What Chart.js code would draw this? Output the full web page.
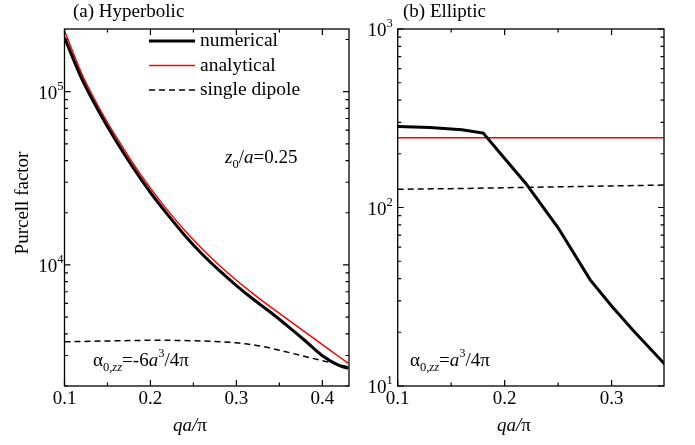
<!DOCTYPE html>
<html>
<head>
<meta charset="utf-8">
<script src="https://cdn.jsdelivr.net/npm/chart.js@4"></script>
<style>
  body { margin: 0; background: #fff; }
  canvas { position: absolute; left: 0; top: 0; }
</style>
</head>
<body>
<canvas id="hyp" width="695" height="445"></canvas>
<canvas id="ell" width="695" height="445"></canvas>
<script>
// (a) Hyperbolic
const hypQ = [0.10, 0.12, 0.14, 0.16, 0.18, 0.20, 0.22, 0.24, 0.26, 0.28, 0.30, 0.32, 0.34, 0.36, 0.38, 0.40, 0.42, 0.43];
const hypNumerical = [205100, 118900, 76740, 51880, 36310, 26180, 19500, 14790, 11560, 9290, 7600, 6310, 5310, 4420, 3650, 2990, 2620, 2530];
const hypAnalytical = [224900, 127400, 81280, 54950, 38460, 27730, 20650, 15780, 12390, 9950, 8150, 6780, 5700, 4830, 4090, 3470, 2940, 2710];
const hypDipoleQ = [0.10, 0.15, 0.20, 0.25, 0.30, 0.325, 0.35, 0.375, 0.40, 0.43];
const hypDipole = [3600, 3640, 3670, 3650, 3550, 3420, 3220, 3000, 2800, 2580];

// (b) Elliptic
const ellQ = [0.10, 0.13, 0.16, 0.18, 0.20, 0.22, 0.25, 0.28, 0.30, 0.32, 0.35];
const ellNumerical = [284, 281, 273, 261, 188, 136, 77, 39.3, 28.1, 20.5, 13.2];
const ellAnalyticalQ = [0.10, 0.35];
const ellAnalytical = [246, 246];
const ellDipoleQ = [0.10, 0.15, 0.20, 0.25, 0.30, 0.35];
const ellDipole = [126.5, 127.5, 129, 130.5, 132, 133.6];

// ticks
const hypXMajor = [0.1, 0.2, 0.3, 0.4];
const hypXMinor = [0.15, 0.25, 0.35];
const hypYMajor = [1e4, 1e5];
const hypYMinor = [2000, 3000, 4000, 5000, 6000, 7000, 8000, 9000,
  20000, 30000, 40000, 50000, 60000, 70000, 80000, 90000, 200000];
const ellXMajor = [0.1, 0.2, 0.3];
const ellXMinor = [0.15, 0.25, 0.35];
const ellYMajor = [10, 100, 1000];
const ellYMinor = [20, 30, 40, 50, 60, 70, 80, 90, 200, 300, 400, 500, 600, 700, 800, 900];

const FONT = '"Liberation Serif", "Times New Roman", serif';
const pts = (xs, ys) => xs.map((x, i) => ({ x: x, y: ys[i] }));

// draws text made of pieces: {t, it: italic, s: 1 sup / -1 sub}
function drawRich(ctx, x, y, segs, size, align) {
  const font = s => (s.it ? 'italic ' : '') + (s.s ? size * 0.66 : size) + 'px ' + FONT;
  let w = 0;
  segs.forEach(s => { ctx.font = font(s); w += ctx.measureText(s.t).width; });
  let cx = align === 'center' ? x - w / 2 : align === 'right' ? x - w : x;
  ctx.textAlign = 'left';
  ctx.textBaseline = 'alphabetic';
  segs.forEach(s => {
    ctx.font = font(s);
    const dy = s.s === 1 ? -size * 0.45 : s.s === -1 ? size * 0.28 : 0;
    ctx.fillText(s.t, cx, y + dy);
    cx += ctx.measureText(s.t).width;
  });
}

const framePlugin = {
  id: 'frame',
  afterDatasetsDraw(chart, args, o) {
    const { ctx, chartArea: a, scales: { x, y } } = chart;
    ctx.save();
    ctx.strokeStyle = '#000';
    ctx.fillStyle = '#000';
    ctx.lineWidth = 1.3;
    ctx.strokeRect(a.left, a.top, a.right - a.left, a.bottom - a.top);

    ctx.lineWidth = 1.2;
    ctx.beginPath();
    const xt = (v, len) => {
      const px = x.getPixelForValue(v);
      if (px > a.right + 0.5) return;
      ctx.moveTo(px, a.bottom); ctx.lineTo(px, a.bottom - len);
      ctx.moveTo(px, a.top); ctx.lineTo(px, a.top + len);
    };
    const yt = (v, len) => {
      const py = y.getPixelForValue(v);
      if (py < a.top - 0.5) return;
      ctx.moveTo(a.left, py); ctx.lineTo(a.left + len, py);
      ctx.moveTo(a.right, py); ctx.lineTo(a.right - len, py);
    };
    o.xMajor.forEach(v => xt(v, 6));
    o.xMinor.forEach(v => xt(v, 3.5));
    o.yMajor.forEach(v => yt(v, 6));
    o.yMinor.forEach(v => yt(v, 3.5));
    ctx.stroke();

    // x tick labels
    ctx.font = '19px ' + FONT;
    ctx.textAlign = 'center';
    ctx.textBaseline = 'alphabetic';
    o.xMajor.forEach(v => ctx.fillText(v.toFixed(1), x.getPixelForValue(v), 404));

    // y tick labels as 10^n
    o.yMajor.forEach(v => {
      const py = y.getPixelForValue(v);
      drawRich(ctx, a.left - o.yGap, py + 7, [{ t: '10' }, { t: String(Math.round(Math.log10(v))), s: 1 }], 19, 'right');
    });

    // axis title
    drawRich(ctx, o.xTitleX, 431, [{ t: 'qa', it: true }, { t: '/', it: true }, { t: 'π' }], 19, 'center');

    // other texts
    o.texts.forEach(tx => drawRich(ctx, tx.x, tx.y, tx.segs, 19, 'left'));

    if (o.yTitle) {
      ctx.save();
      ctx.translate(23, 203);
      ctx.rotate(-Math.PI / 2);
      ctx.font = '19px ' + FONT;
      ctx.textAlign = 'center';
      ctx.textBaseline = 'middle';
      ctx.fillText(o.yTitle, 0, 0);
      ctx.restore();
    }

    if (o.legend) {
      chart.data.datasets.forEach((ds, i) => {
        const ly = 41 + i * 24.5;
        ctx.beginPath();
        ctx.strokeStyle = ds.borderColor;
        ctx.lineWidth = ds.borderWidth;
        ctx.setLineDash(ds.borderDash || []);
        ctx.moveTo(149, ly); ctx.lineTo(195, ly);
        ctx.stroke();
        ctx.setLineDash([]);
        ctx.font = '19.5px ' + FONT;
        ctx.textAlign = 'left';
        ctx.textBaseline = 'middle';
        ctx.fillStyle = '#000';
        ctx.fillText(ds.label, 200, ly);
      });
    }
    ctx.restore();
  }
};

function makeChart(id, datasets, yMin, yMax, xMin, xMax, pad, frame) {
  return new Chart(document.getElementById(id), {
    type: 'line',
    data: { datasets: datasets },
    options: {
      responsive: false,
      animation: false,
      devicePixelRatio: 1,
      layout: { padding: pad },
      plugins: { legend: { display: false }, tooltip: { enabled: false }, frame: frame },
      elements: { point: { radius: 0 } },
      scales: {
        x: { type: 'linear', min: xMin, max: xMax, display: false },
        y: { type: 'logarithmic', min: yMin, max: yMax, display: false }
      }
    },
    plugins: [framePlugin]
  });
}

makeChart('hyp', [
  { label: 'numerical', data: pts(hypQ, hypNumerical), borderColor: '#000', borderWidth: 3, cubicInterpolationMode: 'monotone' },
  { label: 'analytical', data: pts(hypQ, hypAnalytical), borderColor: '#ff0000', borderWidth: 1.5, cubicInterpolationMode: 'monotone' },
  { label: 'single dipole', data: pts(hypDipoleQ, hypDipole), borderColor: '#000', borderWidth: 1.5, borderDash: [6, 4], cubicInterpolationMode: 'monotone' }
], 2000, 230000, 0.1, 0.431, { left: 64.5, top: 29, right: 346, bottom: 59 }, {
  xMajor: hypXMajor, xMinor: hypXMinor, yMajor: hypYMajor, yMinor: hypYMinor,
  yGap: 1, xTitleX: 190, yTitle: 'Purcell factor', legend: true,
  texts: [
    { x: 73, y: 17, segs: [{ t: '(a) Hyperbolic' }] },
    { x: 225, y: 163, segs: [{ t: 'z', it: true }, { t: '0', s: -1 }, { t: '/' }, { t: 'a', it: true }, { t: '=0.25' }] },
    { x: 93, y: 366, segs: [{ t: 'α' }, { t: '0,', s: -1 }, { t: 'zz', it: true, s: -1 }, { t: '=-6' }, { t: 'a', it: true }, { t: '3', s: 1 }, { t: '/4π' }] }
  ]
});

makeChart('ell', [
  { label: 'numerical', data: pts(ellQ, ellNumerical), borderColor: '#000', borderWidth: 3 },
  { label: 'analytical', data: pts(ellAnalyticalQ, ellAnalytical), borderColor: '#ff0000', borderWidth: 1.5 },
  { label: 'single dipole', data: pts(ellDipoleQ, ellDipole), borderColor: '#000', borderWidth: 1.5, borderDash: [6, 4] }
], 10, 1000, 0.1, 0.349, { left: 397.7, top: 29, right: 31, bottom: 59 }, {
  xMajor: ellXMajor, xMinor: ellXMinor, yMajor: ellYMajor, yMinor: ellYMinor,
  yGap: 5, xTitleX: 514, legend: false,
  texts: [
    { x: 403, y: 17, segs: [{ t: '(b) Elliptic' }] },
    { x: 410, y: 366, segs: [{ t: 'α' }, { t: '0,', s: -1 }, { t: 'zz', it: true, s: -1 }, { t: '=' }, { t: 'a', it: true }, { t: '3', s: 1 }, { t: '/4π' }] }
  ]
});
</script>
</body>
</html>
